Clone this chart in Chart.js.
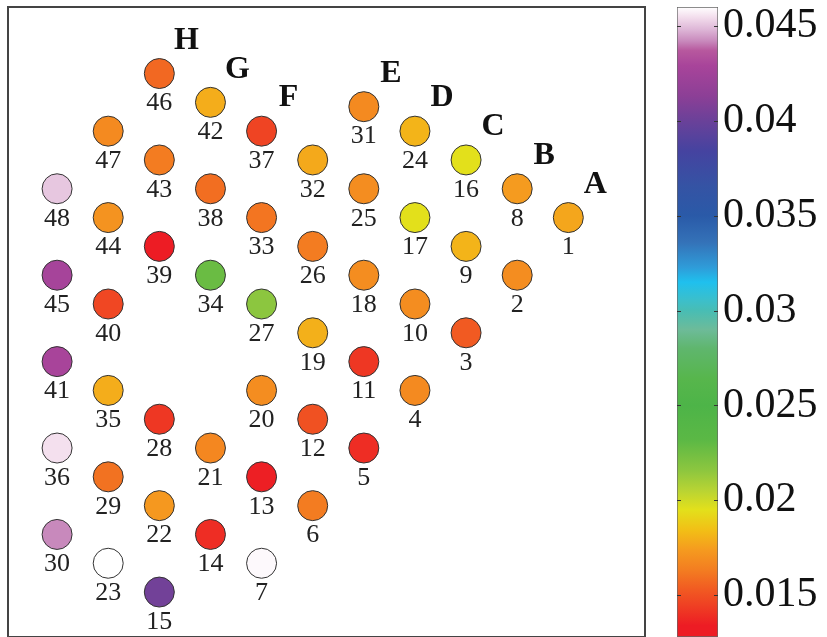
<!DOCTYPE html>
<html>
<head>
<meta charset="utf-8">
<script src="https://cdn.jsdelivr.net/npm/chart.js@4"></script>
<style>
  body { margin: 0; background: #fff; }
  #wrap { position: relative; width: 827px; height: 637px; }
  #map { position: absolute; left: 0; top: 0; }
  #bar { position: absolute; left: 660px; top: 0; }
</style>
</head>
<body>
<div id="wrap">
  <canvas id="map" width="660" height="637"></canvas>
  <canvas id="bar" width="167" height="637"></canvas>
</div>
<script>
// sensor numbers, grid positions and measured values
const sensorIds = [];
for (let i = 1; i <= 48; i++) sensorIds.push(i);

const posX = [10, 9, 8, 7, 6, 5, 4,
  9, 8, 7, 6, 5, 4, 3, 2,
  8, 7, 6, 5, 4, 3, 2, 1,
  7, 6, 5, 4, 2, 1, 0,
  6, 5, 4, 3, 1, 0,
  4, 3, 2, 1, 0,
  3, 2, 1, 0,
  2, 1, 0];

const posY = [13, 11, 9, 7, 5, 3, 1,
  14, 12, 10, 8, 6, 4, 2, 0,
  15, 13, 11, 9, 7, 5, 3, 1,
  16, 14, 12, 10, 6, 4, 2,
  16.85, 15, 13, 11, 7, 5,
  16, 14, 12, 10, 8,
  17, 15, 13, 11,
  18, 16, 14];

const values = [0.0177, 0.0169, 0.0153, 0.0168, 0.0139, 0.0163, 0.0459,
  0.0174, 0.0181, 0.0169, 0.0142, 0.0150, 0.0135, 0.0139, 0.0403,
  0.0195, 0.0195, 0.0169, 0.0180, 0.0169, 0.0167, 0.0173, 0.0460,
  0.0181, 0.0169, 0.0163, 0.0216, 0.0142, 0.0160, 0.0442,
  0.0168, 0.0178, 0.0161, 0.0227, 0.0179, 0.0455,
  0.0146, 0.0159, 0.0131, 0.0147, 0.0429,
  0.0179, 0.0163, 0.0171, 0.0428,
  0.0157, 0.0168, 0.0451];

// row letters and the sensor at the top of each row
const rowNames = ["A", "B", "C", "D", "E", "F", "G", "H"];
const rowStart = [1, 8, 16, 24, 31, 37, 42, 46];

// colour bar
const cbRange = [0.0128, 0.046];
const cbTicks = [0.015, 0.02, 0.025, 0.03, 0.035, 0.04, 0.045];

// colormap stops
const cmapVals = [0.0128, 0.0134, 0.0145, 0.0153, 0.0163, 0.0174, 0.0184, 0.0195, 0.0205, 0.0216,
  0.0232, 0.025, 0.0264, 0.028, 0.029, 0.03, 0.0305, 0.0315, 0.0323, 0.0336, 0.035, 0.0366,
  0.0384, 0.04, 0.0413, 0.0429, 0.0437, 0.0442, 0.0448, 0.0455, 0.046];
const cmapCols = ["#ED1C24", "#ED1C24", "#EF4123", "#F15A22", "#F37C21", "#F59B1F", "#F2BE16",
  "#E3E01B", "#B9D433", "#8CC63F", "#5BB845", "#4DB448", "#57B64C", "#5FB66D", "#6DBB99",
  "#48BDB4", "#3DBFC9", "#1FC0EE", "#2F9BD8", "#3472B8", "#2A5AA8", "#3553A4", "#4543A0",
  "#6A4199", "#8C3F96", "#A8449A", "#B7589E", "#C889BC", "#DDB5D6", "#F4E0EE", "#FFFFFF"];

const serif = '"Times New Roman", "Liberation Serif", serif';

function hexRgb(h) {
  return [parseInt(h.substr(1, 2), 16), parseInt(h.substr(3, 2), 16), parseInt(h.substr(5, 2), 16)];
}

function colorFor(v) {
  if (v <= cmapVals[0]) return cmapCols[0];
  for (let i = 1; i < cmapVals.length; i++) {
    if (v <= cmapVals[i]) {
      const t = (v - cmapVals[i - 1]) / (cmapVals[i] - cmapVals[i - 1]);
      const a = hexRgb(cmapCols[i - 1]), b = hexRgb(cmapCols[i]);
      const c = a.map((x, k) => Math.round(x + (b[k] - x) * t));
      return "rgb(" + c.join(",") + ")";
    }
  }
  return cmapCols[cmapCols.length - 1];
}

const points = sensorIds.map((id, i) => ({ x: posX[i], y: posY[i], v: values[i], id: id }));

// frame + numbers + row letters
const mapLabels = {
  id: "mapLabels",
  afterDatasetsDraw(chart) {
    const ctx = chart.ctx;
    const a = chart.chartArea;
    const sx = chart.scales.x, sy = chart.scales.y;
    ctx.save();
    ctx.fillStyle = "#222";
    ctx.textAlign = "center";
    ctx.textBaseline = "middle";
    ctx.font = "26px " + serif;
    points.forEach(p => {
      ctx.fillText(String(p.id), sx.getPixelForValue(p.x), sy.getPixelForValue(p.y) + 30);
    });
    ctx.fillStyle = "#111";
    ctx.font = "bold 32px " + serif;
    rowNames.forEach((name, i) => {
      const p = points[rowStart[i] - 1];
      ctx.fillText(name, sx.getPixelForValue(p.x) + 27, sy.getPixelForValue(p.y) - 33);
    });
    ctx.strokeStyle = "#444";
    ctx.lineWidth = 2;
    ctx.strokeRect(a.left, a.top, a.right - a.left, a.bottom - a.top);
    ctx.restore();
  }
};

new Chart(document.getElementById("map"), {
  type: "scatter",
  data: {
    datasets: [{
      data: points,
      pointRadius: 15,
      pointHoverRadius: 15,
      pointBorderWidth: 1,
      pointBorderColor: "#333",
      pointBackgroundColor: points.map(p => colorFor(p.v))
    }]
  },
  options: {
    responsive: false,
    animation: false,
    layout: { autoPadding: false, padding: { left: 8, top: 7, right: 15, bottom: 0 } },
    plugins: { legend: { display: false }, tooltip: { enabled: false } },
    scales: {
      x: { type: "linear", display: false, min: -0.96, max: 11.5 },
      y: { type: "linear", display: false, min: -1.56, max: 20.31 }
    }
  },
  plugins: [mapLabels]
});

// small tick marks on both edges of the colour bar
const barTicks = {
  id: "barTicks",
  afterDatasetsDraw(chart) {
    const ctx = chart.ctx;
    const a = chart.chartArea;
    ctx.save();
    ctx.strokeStyle = "#333";
    ctx.lineWidth = 1;
    cbTicks.forEach(t => {
      const y = Math.round(chart.scales.y.getPixelForValue(t)) + 0.5;
      ctx.beginPath();
      ctx.moveTo(a.left, y); ctx.lineTo(a.left + 4, y);
      ctx.moveTo(a.right - 4, y); ctx.lineTo(a.right, y);
      ctx.stroke();
    });
    ctx.restore();
  }
};

new Chart(document.getElementById("bar"), {
  type: "bar",
  data: {
    labels: [""],
    datasets: [{
      data: [cbRange],
      barPercentage: 1,
      categoryPercentage: 1,
      borderColor: "#666",
      borderWidth: 1,
      borderSkipped: false,
      backgroundColor: function (context) {
        const chart = context.chart;
        if (!chart.chartArea) return "#fff";
        const sy = chart.scales.y;
        const g = chart.ctx.createLinearGradient(0, sy.getPixelForValue(cbRange[0]), 0, sy.getPixelForValue(cbRange[1]));
        cmapVals.forEach((v, i) => {
          const t = (v - cbRange[0]) / (cbRange[1] - cbRange[0]);
          g.addColorStop(Math.min(1, Math.max(0, t)), cmapCols[i]);
        });
        return g;
      }
    }]
  },
  options: {
    responsive: false,
    animation: false,
    layout: { autoPadding: false, padding: { left: 17, top: 7, right: 0, bottom: 0 } },
    plugins: { legend: { display: false }, tooltip: { enabled: false } },
    scales: {
      x: { display: false },
      y: {
        position: "right",
        min: cbRange[0],
        max: cbRange[1],
        grid: { display: false, drawTicks: false },
        border: { display: false },
        afterBuildTicks: axis => { axis.ticks = cbTicks.map(v => ({ value: v })); },
        afterFit: axis => { axis.width = 109; axis.paddingTop = 0; axis.paddingBottom = 0; },
        ticks: {
          padding: 5,
          color: "#111",
          font: { family: serif, size: 42, lineHeight: 1 },
          callback: v => String(v)
        }
      }
    }
  },
  plugins: [barTicks]
});
</script>
</body>
</html>
